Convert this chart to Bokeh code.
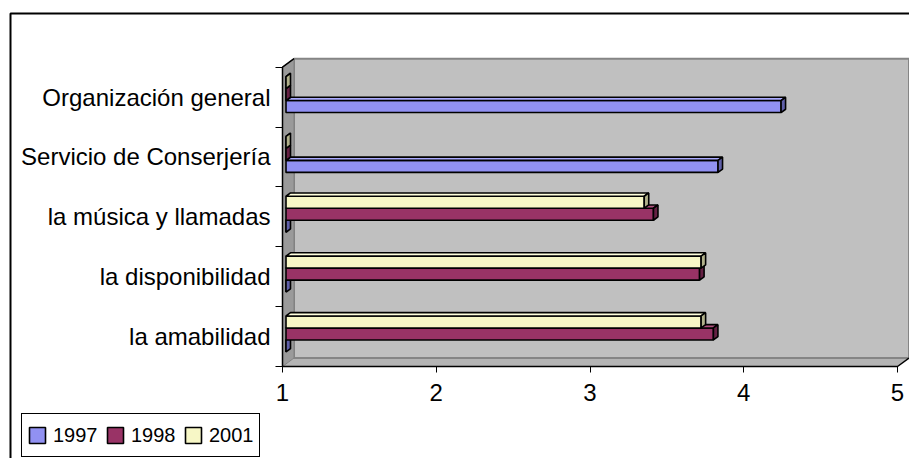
from bokeh.plotting import figure
from bokeh.models import Range1d, FixedTicker, Legend, LegendItem, BoxAnnotation, ColumnDataSource
from bokeh.embed import file_html
from bokeh.resources import INLINE

# ---------------- data ----------------
categories = ["la amabilidad", "la disponibilidad", "la música y llamadas",
              "Servicio de Conserjería", "Organización general"]
series_names = ["1997", "1998", "2001"]
v1997 = [0, 0, 0, 3.81, 4.22]
v1998 = [3.78, 3.69, 3.39, 0, 0]
v2001 = [3.70, 3.70, 3.33, 0, 0]
x_ticks = [1, 2, 3, 4, 5]

# ---------------- styling / geometry ----------------
AX_MIN, AX_MAX = 1, 5
NCAT = len(categories)
W, H = 909, 458
PX_X = 153.75          # px per x unit
PX_Y = 59.86           # px per category
X0_PX, Y0_PX = 282, 366   # where (1, 0) of the front plane lies on the page
DXU, DYU = 11.5 / PX_X, 8.5 / PX_Y     # wall depth
BAR_H = 12 / PX_Y
BDX, BDY = 4.5 / PX_X, 3.3 / PX_Y      # bar depth
SDX, SDY = 3.5 / PX_X, 2.6 / PX_Y      # bars sit a bit behind the front plane

x_start = AX_MIN - X0_PX / PX_X
x_end = x_start + W / PX_X
y_end = Y0_PX / PX_Y
y_start = y_end - H / PX_Y

FONT = "Liberation Sans"

p = figure(width=W, height=H, output_backend="svg", toolbar_location=None,
           x_range=Range1d(x_start, x_end), y_range=Range1d(y_start, y_end),
           min_border=0)
p.xgrid.visible = False
p.ygrid.visible = False
p.outline_line_color = None
p.background_fill_color = "white"
p.border_fill_color = "white"

# ---------------- 3D walls ----------------
p.patch([AX_MIN, AX_MAX, AX_MAX + DXU, AX_MIN + DXU], [0, 0, DYU, DYU],
        fill_color="#b4b4b4", line_color=None)
p.quad(left=AX_MIN + DXU, right=AX_MAX + DXU, bottom=DYU, top=NCAT + DYU,
       fill_color="#c0c0c0", line_color="#858585", line_width=2)
p.patch([AX_MIN, AX_MIN, AX_MIN + DXU, AX_MIN + DXU], [0, NCAT, NCAT + DYU, DYU],
        fill_color="#9a9a9a", line_color="#808080", line_width=1)
p.line([AX_MIN + DXU, AX_MIN, AX_MIN, AX_MAX, AX_MAX + DXU],
       [NCAT + DYU, NCAT, 0, 0, DYU], line_color="black", line_width=1.5)

# ---------------- bars ----------------
colors = {
    "1997": ("#9191f2", "#ababff", "#5f5fa8"),
    "1998": ("#993366", "#b0507f", "#652043"),
    "2001": ("#f7f7c6", "#ffffdc", "#b0b08a"),
}
offsets = {"1997": -BAR_H, "1998": 0.0, "2001": BAR_H}
values = {"1997": v1997, "1998": v1998, "2001": v2001}

legend_items = []
for name in series_names:
    front, topc, capc = colors[name]
    vals = values[name]
    ys = [i + 0.5 + offsets[name] + SDY for i in range(NCAT)]
    lefts = [AX_MIN + SDX] * NCAT
    rights = [max(v, AX_MIN) + SDX for v in vals]
    src = ColumnDataSource(dict(y=ys, left=lefts, right=rights))
    r = p.hbar(y="y", height=BAR_H, left="left", right="right", source=src,
               fill_color=front, line_color="black", line_width=1.6)
    legend_items.append(LegendItem(label=name, renderers=[r]))
    top_xs, top_ys, cap_xs, cap_ys = [], [], [], []
    for y, l, rr in zip(ys, lefts, rights):
        yt, yb = y + BAR_H / 2, y - BAR_H / 2
        top_xs.append([l, rr, rr + BDX, l + BDX])
        top_ys.append([yt, yt, yt + BDY, yt + BDY])
        cap_xs.append([rr, rr, rr + BDX, rr + BDX])
        cap_ys.append([yb, yt, yt + BDY, yb + BDY])
    p.patches(top_xs, top_ys, fill_color=topc, line_color="black", line_width=1.6)
    p.patches(cap_xs, cap_ys, fill_color=capc, line_color="black", line_width=1.6)

# ---------------- axes (pinned to the front plane) ----------------
xa = p.xaxis[0]
xa.fixed_location = 0
xa.ticker = FixedTicker(ticks=x_ticks)
xa.axis_line_color = None
xa.major_tick_out = 6
xa.major_tick_in = 0
xa.minor_tick_line_color = None
xa.major_label_text_font = FONT
xa.major_label_text_font_size = "24px"
xa.major_label_text_color = "black"
xa.major_label_standoff = 11

ya = p.yaxis[0]
ya.fixed_location = AX_MIN
ya.ticker = FixedTicker(ticks=[i + 0.5 for i in range(NCAT)], minor_ticks=list(range(NCAT + 1)))
ya.major_label_overrides = {i + 0.5: c for i, c in enumerate(categories)}
ya.axis_line_color = None
ya.major_tick_line_color = None
ya.major_tick_out = 0
ya.major_tick_in = 0
ya.minor_tick_out = 7
ya.minor_tick_in = 0
ya.minor_tick_line_color = "black"
ya.major_label_text_font = FONT
ya.major_label_text_font_size = "24px"
ya.major_label_text_color = "black"
ya.major_label_standoff = 5

# ---------------- legend ----------------
legend = Legend(items=legend_items, orientation="horizontal", location=(21, 1),
                margin=0, padding=5, spacing=7, glyph_width=20, glyph_height=20,
                label_standoff=6, label_width=45, label_height=32,
                label_text_font=FONT, label_text_font_size="20px", label_text_color="black",
                border_line_color="black", border_line_width=1, border_line_alpha=1,
                background_fill_color="white", background_fill_alpha=1)
p.add_layout(legend, "center")

# ---------------- outer chart border (right/bottom edges lie off the page) ----------------
border = BoxAnnotation(left=10, right=3000, top=13, bottom=3000,
                       left_units="canvas", right_units="canvas",
                       top_units="canvas", bottom_units="canvas",
                       fill_alpha=0, line_color="black", line_alpha=1, line_width=2)
p.add_layout(border)

open("out.html", "w").write(file_html(p, INLINE))
